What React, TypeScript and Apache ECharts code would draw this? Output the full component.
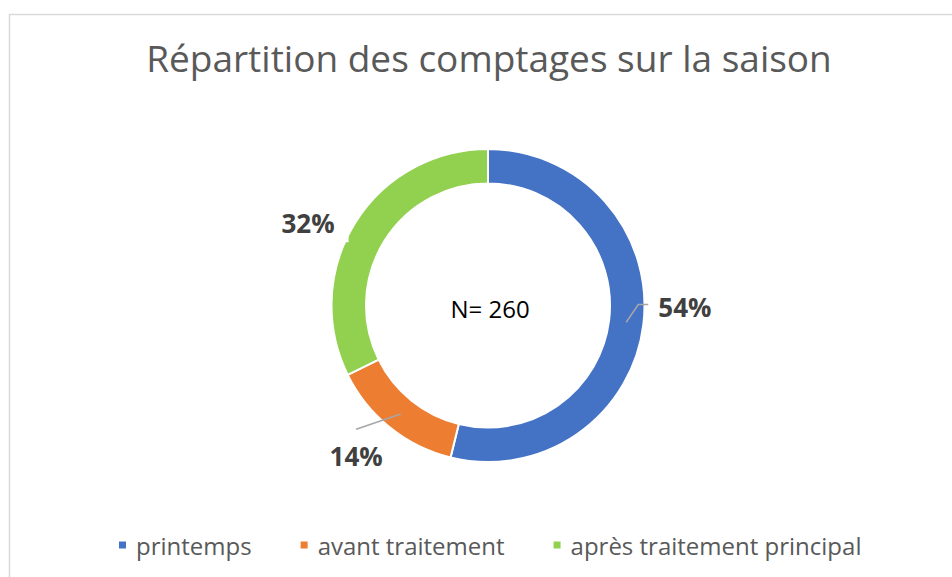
import React, { useEffect, useRef } from "react";
import * as echarts from "echarts";

const titleText = "Répartition des comptages sur la saison";
const centerText = "N= 260";
const categories = ["printemps", "avant traitement", "après traitement principal"];
const counts = [140, 36, 84];
const colors = ["#4472C4", "#ED7D31", "#92D050"];

export default function App() {
  const ref = useRef<HTMLDivElement>(null);
  useEffect(() => {
    document.body.style.margin = "0";
    const chart = echarts.init(ref.current!, null, { renderer: "svg" });
    const cx = 488;
    const cy = 305.5;
    const rIn = 122;
    const rOut = 156.5;
    const total = counts.reduce((a, b) => a + b, 0);
    const midAngles: number[] = [];
    let acc = 0;
    counts.forEach((v) => {
      midAngles.push(((acc + v / 2) / total) * Math.PI * 2);
      acc += v;
    });
    const offsets: number[][] = [
      [-10, -19],
      [14, 21],
      [17, 5],
    ];
    const common = {
      type: "pie",
      center: [cx, cy],
      radius: [rIn, rOut],
      startAngle: 90,
      clockwise: true,
      avoidLabelOverlap: false,
    };
    chart.setOption({
      animation: false,
      backgroundColor: "#ffffff",
      title: {
        text: titleText,
        left: 484,
        textAlign: "center",
        top: 34,
        textStyle: {
          fontFamily: "Open Sans",
          fontWeight: "normal",
          fontSize: 37,
          color: "#595959",
        },
      },
      graphic: [
        {
          type: "rect",
          shape: { x: 9.5, y: 14.5, width: 1200, height: 1000 },
          style: { fill: "none", stroke: "#d9d9d9", lineWidth: 1.5 },
          silent: true,
        },
        {
          type: "text",
          x: 490,
          y: 308,
          style: {
            text: centerText,
            font: "24px 'Open Sans'",
            fill: "#000000",
            align: "center",
            verticalAlign: "middle",
          },
        },
      ],
      legend: {
        bottom: 15,
        left: 112,
        itemWidth: 9,
        itemHeight: 9,
        itemGap: 47,
        icon: "rect",
        textStyle: {
          fontFamily: "Open Sans",
          fontSize: 24,
          color: "#595959",
          padding: [0, 0, 0, 4],
        },
        data: categories,
      },
      series: [
        {
          ...common,
          z: 2,
          itemStyle: { borderColor: "#ffffff", borderWidth: 2 },
          label: { show: false },
          labelLine: { show: false },
          data: categories.map((c, i) => ({
            name: c,
            value: counts[i],
            itemStyle: { color: colors[i] },
          })),
        },
        {
          ...common,
          z: 3,
          silent: true,
          itemStyle: { color: "rgba(0,0,0,0)", borderWidth: 0 },
          label: {
            show: true,
            position: "outside",
            formatter: (p: any) => Math.round(p.percent) + "%",
            fontFamily: "Open Sans",
            fontWeight: "bold",
            fontSize: 26,
            color: "#404040",
          },
          labelLine: {
            show: true,
            length: 10,
            length2: 10,
            lineStyle: { color: "#a6a6a6", width: 1.5 },
          },
          labelLayout: (params: any) => {
            const i = params.dataIndex;
            const o = offsets[i];
            const rect = params.labelRect;
            const left = rect.x + o[0];
            const top = rect.y + o[1];
            const rMid = (rIn + rOut) / 2;
            const a = midAngles[i];
            const start = [cx + rMid * Math.sin(a), cy - rMid * Math.cos(a)];
            let pts: number[][] | undefined;
            if (i === 0) {
              const ly = top + rect.height / 2 - 2;
              pts = [start, [left - 20, ly], [left - 10, ly]];
            } else if (i === 1) {
              pts = [start, [left + rect.width / 2, top - 14]];
            }
            const res: any = { dx: o[0], dy: o[1] };
            if (pts) res.labelLinePoints = pts;
            return res;
          },
          data: categories.map((c, i) => ({
            name: c,
            value: counts[i],
            ...(i === 2
              ? {
                  labelLine: { show: false },
                  label: { backgroundColor: "#ffffff", padding: [0, 14, 13, 0] },
                }
              : {}),
          })),
        },
      ],
    });
    return () => chart.dispose();
  }, []);
  return <div ref={ref} style={{ width: 952, height: 577 }} />;
}
